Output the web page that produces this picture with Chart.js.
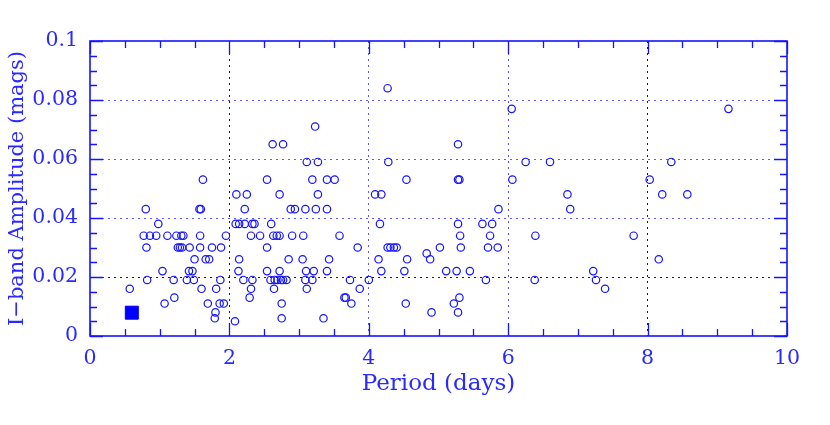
<!DOCTYPE html>
<html><head><meta charset="utf-8">
<script src="https://cdn.jsdelivr.net/npm/chart.js@4/dist/chart.umd.min.js"></script>
<style>html,body{margin:0;padding:0;background:#fff}canvas{display:block}</style>
</head><body>
<canvas id="c" width="830" height="425"></canvas>
<script>
// Observed stars: period (days) and I-band amplitude (mags), parallel arrays
const periods = [
  4.27,
  6.05, 9.16,
  3.23,
  2.62, 2.77, 5.28,
  3.11, 3.27, 4.28, 6.25, 6.60, 8.34,
  1.62, 2.54, 3.19, 3.40, 3.51, 4.54, 5.28, 5.30, 6.06, 8.03,
  2.10, 2.25, 2.72, 3.27, 4.09, 4.18, 6.85, 8.21, 8.57,
  0.80, 1.57, 1.59, 2.22, 2.88, 2.94, 3.09, 3.24, 3.40, 5.86, 6.89,
  0.98, 2.09, 2.14, 2.22, 2.33, 2.36, 2.60, 4.16, 5.28, 5.63, 5.77,
  0.77, 0.86, 0.95, 1.11, 1.24, 1.31, 1.34, 1.58, 1.95, 2.31, 2.44, 2.63, 2.68, 2.72, 2.90, 3.06, 3.58, 5.31, 5.74, 6.39, 7.80,
  0.81, 1.26, 1.29, 1.32, 1.43, 1.58, 1.75, 1.88, 2.54, 3.84, 4.27, 4.31, 4.36, 4.40, 5.02, 5.32, 5.71, 5.85,
  4.83,
  1.50, 1.66, 1.71, 2.14, 2.85, 3.05, 3.43, 4.14, 4.55, 4.88, 8.16,
  1.04, 1.42, 1.47, 2.13, 2.54, 2.72, 3.10, 3.21, 3.40, 4.18, 4.51, 5.11, 5.26, 5.45, 7.22,
  0.82, 1.20, 1.39, 1.49, 1.87, 2.20, 2.33, 2.59, 2.65, 2.69, 2.74, 2.77, 2.82, 3.09, 3.19, 3.73, 4.00, 5.68, 6.38, 7.26,
  0.57, 1.60, 1.81, 2.31, 2.64, 3.11, 3.87, 7.39,
  1.21, 2.29, 3.65, 3.67, 5.30,
  1.07, 1.69, 1.86, 1.92, 2.75, 3.75, 4.53, 5.22,
  1.80, 4.90, 5.28,
  1.79, 2.75, 3.35,
  2.08
];
const amplitudes = [
  0.084,
  0.077, 0.077,
  0.071,
  0.065, 0.065, 0.065,
  0.059, 0.059, 0.059, 0.059, 0.059, 0.059,
  0.053, 0.053, 0.053, 0.053, 0.053, 0.053, 0.053, 0.053, 0.053, 0.053,
  0.048, 0.048, 0.048, 0.048, 0.048, 0.048, 0.048, 0.048, 0.048,
  0.043, 0.043, 0.043, 0.043, 0.043, 0.043, 0.043, 0.043, 0.043, 0.043, 0.043,
  0.038, 0.038, 0.038, 0.038, 0.038, 0.038, 0.038, 0.038, 0.038, 0.038, 0.038,
  0.034, 0.034, 0.034, 0.034, 0.034, 0.034, 0.034, 0.034, 0.034, 0.034, 0.034, 0.034, 0.034, 0.034, 0.034, 0.034, 0.034, 0.034, 0.034, 0.034, 0.034,
  0.030, 0.030, 0.030, 0.030, 0.030, 0.030, 0.030, 0.030, 0.030, 0.030, 0.030, 0.030, 0.030, 0.030, 0.030, 0.030, 0.030, 0.030,
  0.028,
  0.026, 0.026, 0.026, 0.026, 0.026, 0.026, 0.026, 0.026, 0.026, 0.026, 0.026,
  0.022, 0.022, 0.022, 0.022, 0.022, 0.022, 0.022, 0.022, 0.022, 0.022, 0.022, 0.022, 0.022, 0.022, 0.022,
  0.019, 0.019, 0.019, 0.019, 0.019, 0.019, 0.019, 0.019, 0.019, 0.019, 0.019, 0.019, 0.019, 0.019, 0.019, 0.019, 0.019, 0.019, 0.019, 0.019,
  0.016, 0.016, 0.016, 0.016, 0.016, 0.016, 0.016, 0.016,
  0.013, 0.013, 0.013, 0.013, 0.013,
  0.011, 0.011, 0.011, 0.011, 0.011, 0.011, 0.011, 0.011,
  0.008, 0.008, 0.008,
  0.006, 0.006, 0.006,
  0.005
];
// Highlighted reference object (filled square)
const refPeriods = [0.60];
const refAmplitudes = [0.0079];
// Axis tick labels
const xTickValues = [0, 2, 4, 6, 8, 10];
const yTickValues = [0, 0.02, 0.04, 0.06, 0.08, 0.1];
const xMinorStep = 0.5;
const yMinorStep = 0.005;

const BLUE = '#1414ff';
const TEXT_BLUE = '#2a2aff';
const FONT = "'DejaVu Serif', serif";

const starPoints = periods.map((p, i) => ({x: p, y: amplitudes[i]}));
const refPoints = refPeriods.map((p, i) => ({x: p, y: refAmplitudes[i]}));

const frameTicks = {
  id: 'frameTicks',
  afterDraw(chart) {
    const {ctx, chartArea: {left, right, top, bottom}, scales: {x, y}} = chart;
    ctx.save();
    ctx.strokeStyle = BLUE;
    ctx.lineWidth = 1.3;
    ctx.beginPath();
    const nx = Math.round((x.max - x.min) / xMinorStep);
    for (let i = 0; i <= nx; i++) {
      const v = x.min + i * xMinorStep;
      const px = Math.round(x.getPixelForValue(v)) + 0.5;
      const major = xTickValues.some(t => Math.abs(t - v) < 1e-9);
      const len = major ? 13 : 7;
      ctx.moveTo(px, bottom); ctx.lineTo(px, bottom - len);
      ctx.moveTo(px, top); ctx.lineTo(px, top + len);
    }
    const ny = Math.round((y.max - y.min) / yMinorStep);
    for (let i = 0; i <= ny; i++) {
      const v = y.min + i * yMinorStep;
      const py = Math.round(y.getPixelForValue(v)) + 0.5;
      const major = yTickValues.some(t => Math.abs(t - v) < 1e-9);
      const len = major ? 13 : 7;
      ctx.moveTo(left, py); ctx.lineTo(left + len, py);
      ctx.moveTo(right, py); ctx.lineTo(right - len, py);
    }
    ctx.stroke();
    ctx.lineWidth = 1.6;
    ctx.strokeRect(left, top, right - left, bottom - top);
    ctx.restore();
  }
};

function gridColor(ctx, axis) {
  const v = ctx.tick ? ctx.tick.value : null;
  if (v === null) return 'rgba(0,0,0,0)';
  if (Math.abs(v) < 1e-9) return 'rgba(0,0,0,0)';
  if (axis === 'x' && Math.abs(v - 10) < 1e-9) return 'rgba(0,0,0,0)';
  if (axis === 'y' && Math.abs(v - 0.1) < 1e-9) return 'rgba(0,0,0,0)';
  const dark = axis === 'x' ? (v === 2 || v === 8) : Math.abs(v - 0.02) < 1e-9;
  return dark ? '#10109a' : '#5a5aff';
}

new Chart(document.getElementById('c'), {
  type: 'scatter',
  data: {
    datasets: [
      {
        data: starPoints,
        pointStyle: 'circle',
        pointRadius: 3.7,
        pointBorderWidth: 1.2,
        borderColor: BLUE,
        backgroundColor: 'rgba(0,0,0,0)',
        pointHoverRadius: 3.7
      },
      {
        data: refPoints,
        pointStyle: 'rect',
        pointRadius: 9.2,
        pointBorderWidth: 1,
        borderColor: '#0000ff',
        backgroundColor: '#0000ff'
      }
    ]
  },
  options: {
    responsive: false,
    animation: false,
    devicePixelRatio: 1,
    layout: {padding: {left: 0, right: 43, top: 41, bottom: 0}},
    plugins: {legend: {display: false}, tooltip: {enabled: false}},
    scales: {
      x: {
        type: 'linear', min: 0, max: 10,
        afterFit(scale) { scale.height = 89; },
        afterBuildTicks(scale) { scale.ticks = xTickValues.map(v => ({value: v})); },
        ticks: {
          autoSkip: false, maxRotation: 0, padding: 10,
          color: TEXT_BLUE, font: {family: FONT, size: 20.5},
          callback: v => String(v)
        },
        grid: {drawTicks: false, lineWidth: 1, color: c => gridColor(c, 'x')},
        border: {display: false, dash: [2, 4]},
        title: {
          display: true, text: 'Period (days)', color: TEXT_BLUE,
          font: {family: FONT, size: 23}, padding: {top: 0, bottom: 27}
        }
      },
      y: {
        type: 'linear', min: 0, max: 0.1,
        afterFit(scale) { scale.width = 90; },
        afterBuildTicks(scale) { scale.ticks = yTickValues.map(v => ({value: v})); },
        ticks: {
          autoSkip: false, padding: 12,
          color: TEXT_BLUE, font: {family: FONT, size: 20.5},
          callback: v => String(v)
        },
        grid: {drawTicks: false, lineWidth: 1, color: c => gridColor(c, 'y')},
        border: {display: false, dash: [2, 4]},
        title: {
          display: true, text: 'I−band Amplitude (mags)', color: TEXT_BLUE,
          font: {family: FONT, size: 21}, padding: {top: 5, bottom: 0}
        }
      }
    }
  },
  plugins: [frameTicks]
});
</script>
</body></html>
